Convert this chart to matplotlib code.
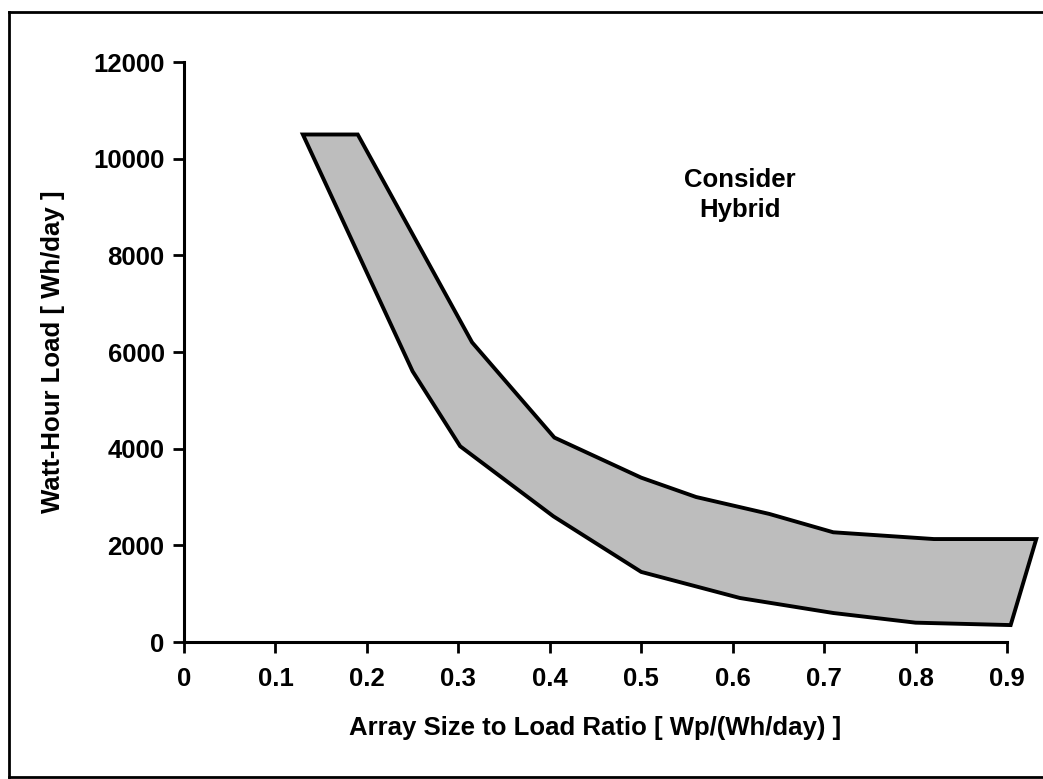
import matplotlib
matplotlib.use("Agg")
import matplotlib.pyplot as plt
from matplotlib.lines import Line2D

plt.rcParams['font.family'] = ['Liberation Sans', 'DejaVu Sans']
plt.rcParams['font.weight'] = 'bold'

# Upper boundary of the sizing band (array ratio, Wh/day)
upper_ratio = [0.13, 0.19, 0.315, 0.405, 0.50, 0.56, 0.64, 0.71, 0.82, 0.932]
upper_load = [10500, 10500, 6200, 4230, 3400, 3000, 2650, 2270, 2130, 2130]

# Lower boundary of the sizing band
lower_ratio = [0.13, 0.25, 0.302, 0.404, 0.50, 0.608, 0.71, 0.80, 0.904]
lower_load = [10500, 5600, 4050, 2600, 1450, 910, 600, 400, 350]

x_ticks = [0, 0.1, 0.2, 0.3, 0.4, 0.5, 0.6, 0.7, 0.8, 0.9]
x_tick_labels = ['0', '0.1', '0.2', '0.3', '0.4', '0.5', '0.6', '0.7', '0.8', '0.9']
y_ticks = [0, 2000, 4000, 6000, 8000, 10000, 12000]

FS = 18.5

fig = plt.figure(figsize=(10.43, 7.79), dpi=100)
ax = fig.add_axes([184 / 1043, 1 - 642 / 779, (1007 - 184) / 1043, (642 - 62) / 779])

# Closed band: upper edge left-to-right, then lower edge right-to-left
band_x = upper_ratio + lower_ratio[::-1]
band_y = upper_load + lower_load[::-1]
ax.fill(band_x, band_y, facecolor='#bdbdbd', edgecolor='black',
        linewidth=2.8, joinstyle='miter', clip_on=False, zorder=3)

ax.set_xlim(0, 0.9)
ax.set_ylim(0, 12000)
ax.set_xticks(x_ticks)
ax.set_xticklabels(x_tick_labels)
ax.set_yticks(y_ticks)

for side in ('top', 'right'):
    ax.spines[side].set_visible(False)
for side in ('left', 'bottom'):
    ax.spines[side].set_linewidth(2.2)

ax.tick_params(axis='both', direction='out', length=8, width=2, labelsize=FS,
               colors='black')
ax.tick_params(axis='x', pad=10)
ax.tick_params(axis='y', pad=6)
for lbl in ax.get_xticklabels() + ax.get_yticklabels():
    lbl.set_fontweight('bold')

ax.set_xlabel('Array Size to Load Ratio [ Wp/(Wh/day) ]', fontsize=FS,
              fontweight='bold', labelpad=18)
ax.set_ylabel('Watt-Hour Load [ Wh/day ]', fontsize=FS, fontweight='bold',
              labelpad=20)

ax.text(0.608, 9250, 'Consider\nHybrid', ha='center', va='center',
        fontsize=FS, fontweight='bold', linespacing=1.3)

# Outer frame around the figure
frame_kw = dict(color='black', linewidth=2, transform=fig.transFigure)
left, right = 9 / 1043, 1.01
bottom, top = 1 - 777 / 779, 1 - 12 / 779
fig.add_artist(Line2D([left, left], [bottom, top], **frame_kw))
fig.add_artist(Line2D([left, right], [top, top], **frame_kw))
fig.add_artist(Line2D([left, right], [bottom, bottom], **frame_kw))

fig.savefig('out.png', dpi=100)
